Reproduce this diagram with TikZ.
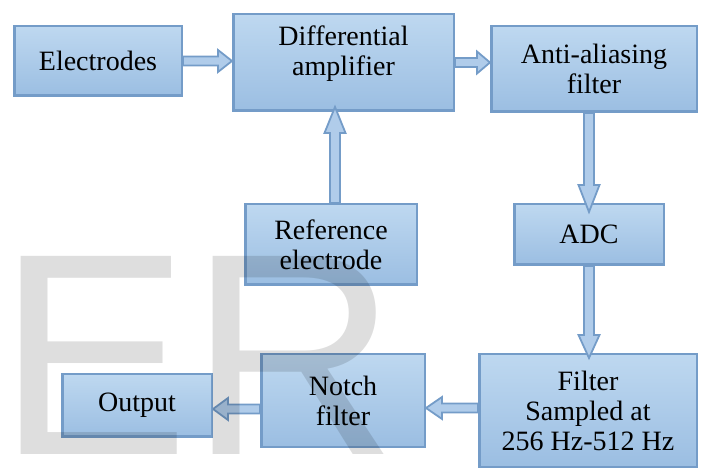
\documentclass[tikz,border=0pt]{standalone}
\usepackage{fontspec}
\setmainfont{Liberation Serif}
\newfontfamily\wmfont{Liberation Sans}
\usetikzlibrary{calc}

\definecolor{boxborder}{RGB}{116,156,200}
\definecolor{boxtop}{RGB}{190,216,240}
\definecolor{boxbot}{RGB}{155,190,226}
\definecolor{arrowfill}{RGB}{176,204,234}

\tikzset{
  block/.style={draw=boxborder, line width=2.5pt, top color=boxtop,
    bottom color=boxbot, align=center, inner sep=2pt,
    font=\fontsize{28}{30}\selectfont},
  blockarrow/.style={draw=boxborder, line width=1.8pt, fill=arrowfill,
    line join=miter},
}

% horizontal block arrow: tail point, tip point (only its x is used), head length
\newcommand\harrow[3]{%
  \draw[blockarrow] let \p1=(#1), \p2=(#2), \n1={sign(\x2-\x1)} in
    (\x1,{\y1+4.5pt}) -- ({\x2-\n1*#3},{\y1+4.5pt}) -- ({\x2-\n1*#3},{\y1+11pt})
    -- (\x2,\y1) -- ({\x2-\n1*#3},{\y1-11pt}) -- ({\x2-\n1*#3},{\y1-4.5pt})
    -- (\x1,{\y1-4.5pt}) -- cycle;}
% vertical block arrow: tail point, tip point (only its y is used), head length
\newcommand\varrow[3]{%
  \draw[blockarrow] let \p1=(#1), \p2=(#2), \n1={sign(\y2-\y1)} in
    ({\x1+5pt},\y1) -- ({\x1+5pt},{\y2-\n1*#3}) -- ({\x1+10.5pt},{\y2-\n1*#3})
    -- (\x1,\y2) -- ({\x1-10.5pt},{\y2-\n1*#3}) -- ({\x1-5pt},{\y2-\n1*#3})
    -- ({\x1-5pt},\y1) -- cycle;}

\begin{document}
\begin{tikzpicture}[x=1pt, y=-1pt]
\useasboundingbox (0,0) rectangle (702,470);

% blocks
\node[block, minimum width=167.5pt, minimum height=69.5pt] (elec)   at (98,61)     {Electrodes};
\node[block, minimum width=220.5pt, minimum height=96.5pt] (diff)   at (343.5,62.5) {Differential\\amplifier\\[-6pt]};
\node[block, minimum width=205.5pt, minimum height=85.5pt] (anti)   at (594,69)    {Anti-aliasing\\filter};
\node[block, minimum width=171.5pt, minimum height=80.5pt] (ref)    at (331,244.5) {Reference\\electrode};
\node[block, minimum width=149.5pt, minimum height=60.5pt] (adc)    at (589,234.5) {ADC};
\node[block, minimum width=163.5pt, minimum height=92.5pt] (notch)  at (343,400.5) {Notch\\filter};
\node[block, minimum width=149.5pt, minimum height=62.5pt] (output) at (137,405.5) {Output};
\node[block, minimum width=217.5pt, minimum height=112.5pt] (filt)  at (588,410.5) {Filter\\Sampled at\\256 Hz-512 Hz};

% connectors
\harrow{elec.east}{diff.west}{14pt}
\harrow{diff.east}{anti.west}{13pt}
\varrow{[xshift=4pt]ref.north}{[yshift=5pt]diff.south}{26pt}
\varrow{adc.north |- anti.south}{[yshift=-9pt]adc.north}{27pt}
\varrow{adc.south}{[yshift=-5pt]filt.north}{23pt}
\harrow{[yshift=2.5pt]filt.west}{notch.east}{16pt}
\harrow{[yshift=-8.5pt]notch.west}{output.east}{15pt}

% watermark
\node[anchor=base west, inner sep=0pt, text=black, text opacity=0.13,
  font=\wmfont\fontsize{288}{288}\selectfont] (wm) at (-3,454) {ER};
\end{tikzpicture}
\end{document}
